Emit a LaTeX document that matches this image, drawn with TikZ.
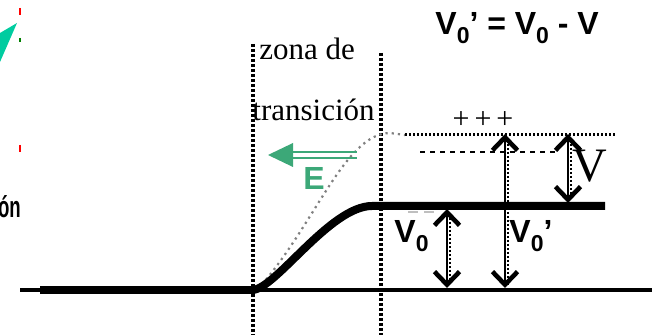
\documentclass[tikz,border=0pt]{standalone}
\usepackage{fontspec}
\setmainfont{Liberation Serif}
\setsansfont{Liberation Sans}
\usepackage{tikz}
\usetikzlibrary{arrows.meta, positioning}

\definecolor{fieldgreen}{RGB}{60,168,120}
\definecolor{markteal}{RGB}{0,204,160}
\newcommand{\lowsub}[1]{\raisebox{-4.5pt}{\fontsize{11.5}{11.5}\selectfont #1}}

\begin{document}
\begin{tikzpicture}[
    x=0.5pt, y=-0.5pt,
    % Styles
    level/.style={
        line width=4pt
    },
    groundline/.style={
        line width=2pt
    },
    boundary/.style={
        line width=1.8pt,
        dash pattern=on 1.6pt off 0.9pt
    },
    shadow/.style={
        line width=1.2pt,
        dash pattern=on 1.2pt off 0.8pt
    },
    potarrow/.style={
        {Straight Barb[length=6.5pt, width=12.5pt, line width=2.3pt]}-{Straight Barb[length=6.5pt, width=12.5pt, line width=2.3pt]},
        line width=0.8pt
    },
    serifbig/.style={
        font=\fontsize{15.5}{17}\selectfont,
        inner sep=0pt
    },
    vtag/.style={
        font=\sffamily\bfseries\fontsize{16}{18}\selectfont,
        inner sep=0pt
    }
]
\useasboundingbox (0,0) rectangle (652,335);

% Cropped marks at the left edge
\fill[markteal] (0,33) -- (17,23) -- (0,62) -- cycle;
\draw[red, line width=1pt] (20,8) -- (20,15);
\draw[green!50!black, line width=1pt] (20,38) -- (20,42);
\draw[red, line width=1pt] (20,145) -- (20,152);
\node[font=\sffamily\bfseries\fontsize{15}{17}\selectfont, inner sep=0pt, xscale=0.62,
      anchor=base east] (cut) at (21,218) {ón};

% Transition zone boundaries
\coordinate (lefttop) at (253,44);
\coordinate (leftbot) at (253,335);
\coordinate (righttop) at (381,53);
\coordinate (rightbot) at (381,335);
\draw[boundary] (lefttop) -- (leftbot);
\draw[boundary] (righttop) -- (rightbot);

\node[serifbig, anchor=base west] (zona) at (259,60) {zona de};
\node[serifbig, anchor=base west] (trans) at (252,121) {transición};

% Potential before bias (dotted)
\draw[gray, line width=1.1pt, dotted] (258,289) .. controls (315,225) and (345,133) .. (390,133) -- (405,135);
\draw[line width=1.5pt, dash pattern=on 1.2pt off 0.8pt] (405,135) -- (615,135);
\draw[line width=1pt, dash pattern=on 2.6pt off 2.4pt] (420,152) -- (557,152);
\node[font=\fontsize{15}{17}\selectfont, inner sep=0pt] (plus) at (483,120) {+\hspace{2.5pt}+\hspace{2.5pt}+};

% Potential with bias (thick)
\draw[groundline] (20,290) -- (652,290);
\draw[level] (40,290) -- (255,290);
\draw[level] (252,290) .. controls (275,290) and (330,206) .. (372,206) -- (605,206);
\draw[black!25, line width=0.8pt, dash pattern=on 5pt off 3pt] (408,212) -- (437,212);

% Electric field
\coordinate (Ehead) at (268,155);
\fill[fieldgreen] (Ehead) -- (293,143) -- (293,167) -- cycle;
\draw[fieldgreen, line width=1.1pt] (293,152) -- (357,152);
\draw[fieldgreen, line width=1.1pt] (293,158) -- (357,158);
\node[vtag, text=fieldgreen, anchor=base west] (E) at (303,190) {E};

% Potential arrows
\coordinate (v0top) at (447,209);
\coordinate (v0bot) at (447,288);
\coordinate (vptop) at (505,134);
\coordinate (vpbot) at (505,288);
\coordinate (vtop) at (568,134);
\coordinate (vbot) at (568,203);
\draw[shadow] (450,214) -- (450,285);
\draw[shadow] (508,140) -- (508,285);
\draw[shadow] (571,140) -- (571,198);
\draw[potarrow] (v0top) -- (v0bot);
\draw[potarrow] (vptop) -- (vpbot);
\draw[potarrow] (vtop) -- (vbot);

\node[vtag, anchor=base west] (V0) at (394,243) {V\lowsub{0}};
\node[vtag, anchor=base west] (V0p) at (509,243) {V\lowsub{0}’};
\node[font=\fontsize{24}{26}\selectfont, inner sep=0pt, anchor=base] (V) at (590,182) {V};

% Relation
\node[vtag, anchor=base west] (relation) at (435,35) {V\lowsub{0}’ = V\lowsub{0} - V};

\end{tikzpicture}
\end{document}
